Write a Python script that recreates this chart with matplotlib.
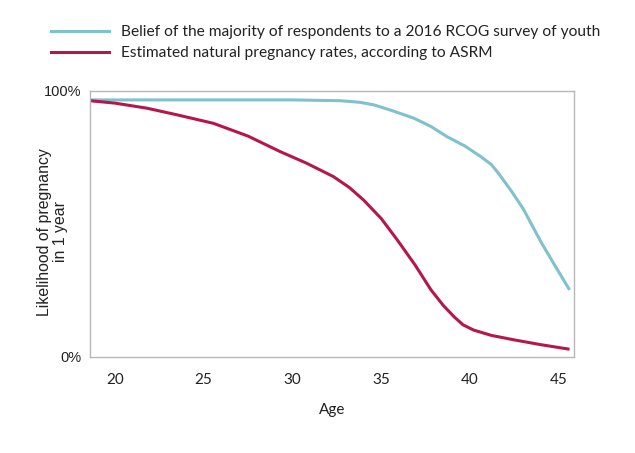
import matplotlib
matplotlib.use('Agg')
from matplotlib import pyplot as plt
from matplotlib.lines import Line2D

# belief of survey respondents
belief_age = [18.6, 22.0, 26.0, 30.0, 32.7, 33.8, 34.6, 35.6, 36.85, 37.8, 38.7, 39.7, 40.6,
              41.2, 41.6, 42.3, 43.0, 43.4, 44.0, 44.8, 45.6]
belief_val = [0.965, 0.965, 0.965, 0.965, 0.962, 0.956, 0.946, 0.925, 0.896, 0.865, 0.827, 0.792,
              0.752, 0.722, 0.689, 0.625, 0.555, 0.505, 0.43, 0.34, 0.251]

# ASRM estimates
asrm_age = [18.6, 20.0, 21.8, 23.5, 25.55, 27.5, 29.3, 30.8, 32.3, 33.2, 34.0, 35.0, 35.9, 36.9,
            37.8, 38.5, 39.1, 39.6, 40.2, 41.2, 42.5, 44.0, 45.6]
asrm_val = [0.962, 0.953, 0.934, 0.909, 0.877, 0.829, 0.771, 0.727, 0.677, 0.636, 0.589, 0.519,
            0.439, 0.345, 0.251, 0.192, 0.150, 0.120, 0.100, 0.080, 0.063, 0.045, 0.028]

x_ticks = [20, 25, 30, 35, 40, 45]
y_ticks = [0, 1]
y_tick_labels = ['0%', '100%']

teal = '#7fc1cc'
crimson = '#b5174b'

fig = plt.figure(figsize=(6.35, 4.53), dpi=100)
ax = fig.add_axes([0.1417, 0.2126, 0.7622, 0.5874])

ax.plot(belief_age, belief_val, color=teal, lw=2.2, solid_capstyle='butt')
ax.plot(asrm_age, asrm_val, color=crimson, lw=2.2, solid_capstyle='butt')

ax.set_xlim(18.6, 45.85)
ax.set_ylim(0, 1)
ax.set_xticks(x_ticks)
ax.set_xticklabels([str(t) for t in x_ticks], fontsize=11, family='Lato', color='#222222')
ax.set_yticks(y_ticks)
ax.set_yticklabels(y_tick_labels, fontsize=10.5, family='Liberation Sans', color='#222222')
ax.tick_params(axis='x', length=0, pad=12)
ax.tick_params(axis='y', length=0, pad=6)

for s in ax.spines.values():
    s.set_color('#b8b8b8')
    s.set_linewidth(1.0)

ax.set_xlabel('Age', fontsize=11, family='Lato', color='#222222', labelpad=11)
ax.set_ylabel('Likelihood of pregnancy\nin 1 year', fontsize=11.4, family='Liberation Sans',
              color='#222222', linespacing=1.1)
ax.yaxis.set_label_coords(-0.045, 0.47)

handles = [Line2D([], [], color=teal, lw=2.2),
           Line2D([], [], color=crimson, lw=2.2)]
labels = ['Belief of the majority of respondents to a 2016 RCOG survey of youth',
          'Estimated natural pregnancy rates, according to ASRM']
fig.legend(handles, labels, loc='upper left', bbox_to_anchor=(0.059, 0.975), frameon=False,
           prop={'family': 'Lato', 'size': 11.2}, handlelength=3.7, handletextpad=0.75,
           labelspacing=0.45, labelcolor='#222222')

fig.savefig('out.png', dpi=100)
